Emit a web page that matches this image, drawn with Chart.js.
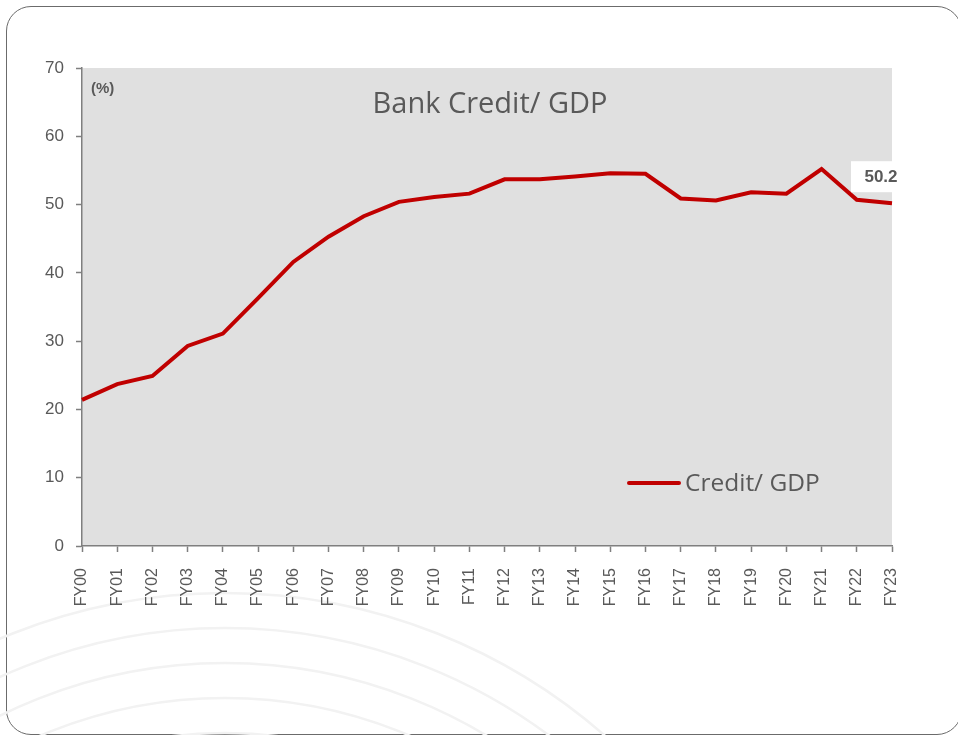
<!DOCTYPE html>
<html>
<head>
<meta charset="utf-8">
<title>Bank Credit / GDP</title>
<script src="https://cdn.jsdelivr.net/npm/chart.js@4.4.1/dist/chart.umd.min.js"></script>
<style>
  html, body { margin: 0; padding: 0; background: #fff; }
  body { width: 958px; height: 735px; position: relative; overflow: hidden; }
  .card {
    position: absolute; left: 6px; top: 6px;
    width: 956px; height: 729px;
    border: 1.5px solid #6b6b6b; border-radius: 25px;
    box-sizing: border-box;
  }
  #creditChart { position: absolute; left: 0; top: 0; }
</style>
</head>
<body>
<div class="card"></div>
<canvas id="creditChart" width="958" height="735"></canvas>
<script>
const fyLabels = ['FY00', 'FY01', 'FY02', 'FY03', 'FY04', 'FY05', 'FY06', 'FY07', 'FY08', 'FY09', 'FY10', 'FY11',
                  'FY12', 'FY13', 'FY14', 'FY15', 'FY16', 'FY17', 'FY18', 'FY19', 'FY20', 'FY21', 'FY22', 'FY23'];
const creditToGdp = [21.4, 23.7, 24.9, 29.3, 31.1, 36.3, 41.6, 45.3, 48.3, 50.4, 51.1, 51.6,
                     53.7, 53.7, 54.1, 54.6, 54.5, 50.9, 50.6, 51.8, 51.6, 55.2, 50.7, 50.2];
const yTicks = [0, 10, 20, 30, 40, 50, 60, 70];

const chartTitle = 'Bank Credit/ GDP';
const unitLabel = '(%)';
const seriesName = 'Credit/ GDP';

const textGrey = '#595959';
const axisGrey = '#7f7f7f';
const lineRed = '#c00000';
const plotFill = '#e0e0e0';

// faint arcs behind the card + grey plot area
const backdropPlugin = {
  id: 'backdrop',
  beforeDraw(chart) {
    const { ctx, chartArea } = chart;
    ctx.save();
    ctx.strokeStyle = '#f2f2f2';
    ctx.lineWidth = 2.5;
    for (let i = 0; i < 5; i++) {
      ctx.beginPath();
      ctx.arc(225, 1170, 577 - i * 35, Math.PI, 2 * Math.PI);
      ctx.stroke();
    }
    ctx.fillStyle = plotFill;
    ctx.fillRect(chartArea.left, chartArea.top, chartArea.right - chartArea.left, chartArea.bottom - chartArea.top);
    ctx.restore();
  }
};

// title, unit, in-plot legend and last value tag
const labelsPlugin = {
  id: 'labels',
  afterDatasetsDraw(chart) {
    const { ctx, chartArea } = chart;
    const ds = chart.data.datasets[0];
    ctx.save();

    ctx.fillStyle = textGrey;
    ctx.font = '29px "Open Sans"';
    ctx.textAlign = 'center';
    ctx.textBaseline = 'alphabetic';
    ctx.fillText(chartTitle, 490, 113);

    ctx.font = 'bold 15px "Liberation Sans"';
    ctx.textAlign = 'left';
    ctx.textBaseline = 'middle';
    ctx.fillText(unitLabel, chartArea.left + 9, 89);

    // legend
    ctx.strokeStyle = ds.borderColor;
    ctx.lineWidth = 4;
    ctx.lineCap = 'round';
    ctx.beginPath();
    ctx.moveTo(629, 483);
    ctx.lineTo(679, 483);
    ctx.stroke();
    ctx.font = '24.5px "Open Sans"';
    ctx.textBaseline = 'alphabetic';
    ctx.fillText(ds.label, 685, 491);

    // value tag on the last point
    const meta = chart.getDatasetMeta(0);
    const last = meta.data[meta.data.length - 1];
    const value = ds.data[ds.data.length - 1];
    ctx.fillStyle = '#ffffff';
    ctx.fillRect(last.x - 41, last.y - 42, 62, 31);
    ctx.fillStyle = textGrey;
    ctx.font = 'bold 17px "Liberation Sans"';
    ctx.textAlign = 'center';
    ctx.textBaseline = 'middle';
    ctx.fillText(value.toFixed(1), last.x - 11, last.y - 26);

    ctx.restore();
  }
};

const ctx = document.getElementById('creditChart').getContext('2d');
new Chart(ctx, {
  type: 'line',
  data: {
    labels: fyLabels,
    datasets: [{
      label: seriesName,
      data: creditToGdp,
      borderColor: lineRed,
      borderWidth: 4,
      pointRadius: 0,
      tension: 0,
      fill: false
    }]
  },
  options: {
    responsive: false,
    animation: false,
    layout: { padding: { top: 68, right: 66, left: 0, bottom: 0 } },
    plugins: {
      legend: { display: false },
      tooltip: { enabled: false }
    },
    scales: {
      x: {
        offset: false,
        grid: { drawOnChartArea: false, drawTicks: true, tickLength: 6, tickColor: axisGrey, tickWidth: 1.5, offset: false },
        border: { color: axisGrey, width: 1.5 },
        ticks: {
          autoSkip: false, minRotation: 90, maxRotation: 90, padding: 16,
          color: textGrey, font: { family: '"Liberation Sans"', size: 16 }
        },
        afterFit: s => { s.height = 735 - 546; }
      },
      y: {
        min: yTicks[0],
        max: yTicks[yTicks.length - 1],
        afterBuildTicks: s => { s.ticks = yTicks.map(v => ({ value: v })); },
        grid: { drawOnChartArea: false, drawTicks: true, tickLength: 6, tickColor: axisGrey, tickWidth: 1.5 },
        border: { color: axisGrey, width: 1.5 },
        ticks: { padding: 12, color: textGrey, font: { family: '"Liberation Sans"', size: 17 } },
        afterFit: s => { s.width = 82; }
      }
    }
  },
  plugins: [backdropPlugin, labelsPlugin]
});
</script>
</body>
</html>
